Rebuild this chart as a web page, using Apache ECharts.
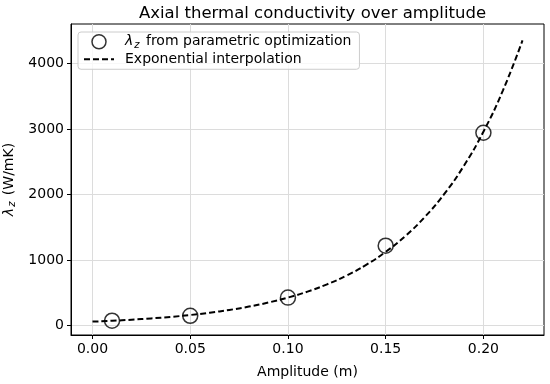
<!DOCTYPE html>
<html>
<head>
<meta charset="utf-8">
<script src="https://cdn.jsdelivr.net/npm/echarts@6/dist/echarts.min.js"></script>
<style>html,body{margin:0;padding:0;background:#fff}#c{width:550px;height:384px}</style>
</head>
<body>
<div id="c"></div>
<script>
// Data
var amplitudes = [0.01, 0.05, 0.10, 0.15, 0.20];
var lambdaZ = [76, 150, 428, 1220, 2942];
var curveX = [0.00, 0.01, 0.02, 0.03, 0.04, 0.05, 0.06, 0.07, 0.08, 0.09, 0.10, 0.11, 0.12, 0.13, 0.14, 0.15, 0.16, 0.17, 0.18, 0.19, 0.20, 0.21, 0.22];
var curveY = [62, 75, 91, 111, 134, 163, 198, 240, 291, 353, 429, 520, 631, 765, 928, 1126, 1366, 1657, 2010, 2438, 2958, 3588, 4350];
var xTicks = [0.00, 0.05, 0.10, 0.15, 0.20];
var yTicks = [0, 1000, 2000, 3000, 4000];

var pts = amplitudes.map(function (x, i) { return [x, lambdaZ[i]]; });
var curve = curveX.map(function (x, i) { return [x, curveY[i]]; });
var FONT = 'DejaVu Sans';
var richStyles = {
  t: { fontFamily: FONT, fontSize: 14, color: '#000' },
  l: { fontFamily: FONT, fontSize: 14, color: '#000', fontStyle: 'italic' },
  s: { fontFamily: FONT, fontSize: 10, color: '#000', fontStyle: 'italic', verticalAlign: 'bottom', padding: [7, 2, 0, 1] }
};

var chart = echarts.init(document.getElementById('c'), null, { renderer: 'canvas' });
chart.setOption({
  animation: false,
  backgroundColor: '#fff',
  textStyle: { fontFamily: FONT },
  title: {
    text: 'Axial thermal conductivity over amplitude',
    left: 307.5, top: 0, textAlign: 'center',
    textStyle: { fontFamily: FONT, fontSize: 16.5, fontWeight: 'normal', color: '#000' }
  },
  grid: { left: 71, right: 6, top: 24, bottom: 49, containLabel: false, outerBoundsMode: 'none',
    show: true, borderColor: '#000', borderWidth: 1, backgroundColor: 'transparent' },
  legend: {
    orient: 'vertical', left: 78, top: 32,
    padding: [2, 8, 3, 5], itemGap: 2,
    itemWidth: 30, itemHeight: 14,
    borderColor: '#cccccc', borderWidth: 1, borderRadius: 3,
    backgroundColor: 'rgba(255,255,255,0.8)',
    data: [
      { name: 'pts', icon: 'circle', itemStyle: { color: 'transparent', borderColor: '#000', borderWidth: 1.5 } },
      { name: 'fit', itemStyle: { color: 'transparent', borderColor: 'transparent', borderWidth: 0, opacity: 0 },
        lineStyle: { color: '#000', width: 2, type: [6, 3], opacity: 1 } }
    ],
    formatter: function (n) {
      return n === 'pts' ? '{l|λ}{s|z}{t| from parametric optimization}' : '{t|Exponential interpolation}';
    },
    textStyle: { fontFamily: FONT, fontSize: 14, color: '#000', padding: [0, 0, 0, 6], rich: richStyles }
  },
  xAxis: {
    type: 'value', min: -0.011, max: 0.231,
    name: 'Amplitude (m)', nameLocation: 'middle', nameGap: 30,
    nameTextStyle: { fontFamily: FONT, fontSize: 14, color: '#000' },
    axisLine: { show: true, onZero: false, lineStyle: { color: '#000', width: 1 } },
    axisTick: { show: true, length: 4, customValues: xTicks, lineStyle: { color: '#000' } },
    axisLabel: { customValues: xTicks, fontFamily: FONT, fontSize: 14, color: '#000', margin: 7,
      formatter: function (v) { return v.toFixed(2); } },
    splitLine: { show: true, lineStyle: { color: '#dcdcdc', width: 1 } }
  },
  yAxis: {
    type: 'value', min: -142, max: 4600,
    name: '{l|λ}{s|z}{t| (W/mK)}', nameLocation: 'middle', nameGap: 51, nameRotate: 90,
    nameTextStyle: { fontFamily: FONT, fontSize: 14, color: '#000', rich: richStyles },
    axisLine: { show: true, onZero: false, lineStyle: { color: '#000', width: 1 } },
    axisTick: { show: true, length: 4, customValues: yTicks, lineStyle: { color: '#000' } },
    axisLabel: { customValues: yTicks, fontFamily: FONT, fontSize: 14, color: '#000', margin: 7,
      formatter: function (v) { return String(v); } },
    splitLine: { show: true, lineStyle: { color: '#dcdcdc', width: 1 } }
  },
  series: [
    {
      name: 'fit', type: 'line', data: curve, smooth: true, showSymbol: false, symbol: 'none',
      lineStyle: { color: '#000', width: 2, type: [6, 3] }, itemStyle: { color: '#000' }, z: 2
    },
    {
      name: 'pts', type: 'scatter', data: pts, symbol: 'circle', symbolSize: 15,
      itemStyle: { color: 'transparent', borderColor: '#000', borderWidth: 1.5 }, z: 3
    }
  ]
});
</script>
</body>
</html>
